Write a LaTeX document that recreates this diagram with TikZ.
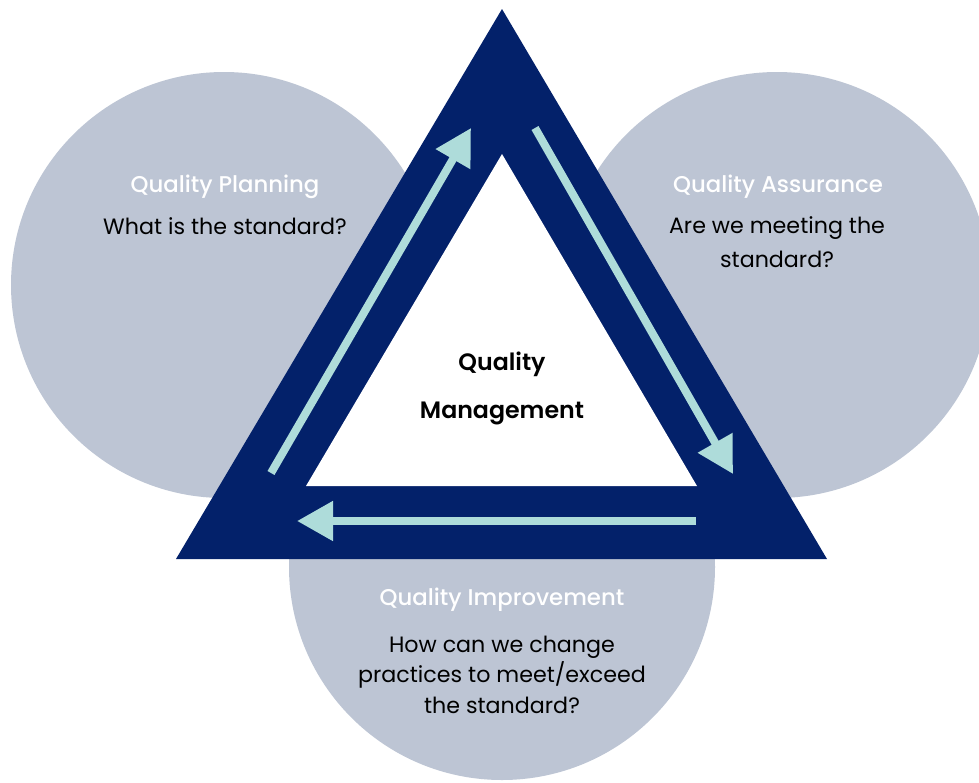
\documentclass[tikz,border=0pt]{standalone}
\usepackage{fontspec}
\setmainfont{Poppins}
\newfontfamily\mediumfont{Poppins Medium}
\newfontfamily\semifont{Poppins SemiBold}
\usetikzlibrary{arrows.meta}
\definecolor{navy}{HTML}{03216A}
\definecolor{disc}{HTML}{BDC5D4}
\definecolor{mint}{HTML}{AEDCDA}
\tikzset{
  disc/.style={fill=disc, draw=none},
  head/.style={text=white, anchor=base, font=\mediumfont\fontsize{22.8}{26}\selectfont, align=center},
  question/.style={text=black, anchor=base, font=\fontsize{22.2}{33.5}\selectfont, align=center},
  lower/.style={font=\fontsize{22.2}{30.5}\selectfont},
  core/.style={text=black, anchor=base, font=\semifont\fontsize{23.7}{48}\selectfont, align=center},
  flow/.style={draw=mint, line width=8pt, line cap=butt,
    -{Triangle[length=36pt,width=38pt]}},
}
\begin{document}
\begin{tikzpicture}[x=1pt,y=-1pt]
  \useasboundingbox (0,0) rectangle (979,782);
  \clip (0,0) rectangle (979,782);
  \fill[white] (0,0) rectangle (979,782);

  % three discs behind the triangle
  \fill[disc] (224,285) circle[radius=213];
  \fill[disc] (777,285) circle[radius=213];
  \fill[disc] (502,567) circle[radius=213];

  % triangular frame
  \fill[navy] (502,9) -- (827,559) -- (176,559) -- cycle;
  \fill[white] (502,154) -- (697,486) -- (306,486) -- cycle;

  % cycle arrows
  \coordinate (lt) at (271,473);
  \coordinate (lh) at (471,128);
  \coordinate (rt) at (535,128);
  \coordinate (rh) at (733,474);
  \coordinate (bt) at (696,521);
  \coordinate (bh) at (297,521);
  \draw[flow] (lt) -- (lh);
  \draw[flow] (rt) -- (rh);
  \draw[flow] (bt) -- (bh);

  % texts (base anchor sits on the last line's baseline)
  \node[head] (planH) at (225,192) {Quality Planning};
  \node[question] (planQ) at (225,234) {What is the standard?};
  \node[head] (assH) at (778,192) {Quality Assurance};
  \node[question] (assQ) at (777,267) {Are we meeting the\\standard?};
  \node[head] (impH) at (502,605) {Quality Improvement};
  \node[question, lower] (impQ) at (502,713) {How can we change\\practices to meet/exceed\\the standard?};
  \node[core] (qm) at (502,418) {Quality\\Management};
\end{tikzpicture}
\end{document}
